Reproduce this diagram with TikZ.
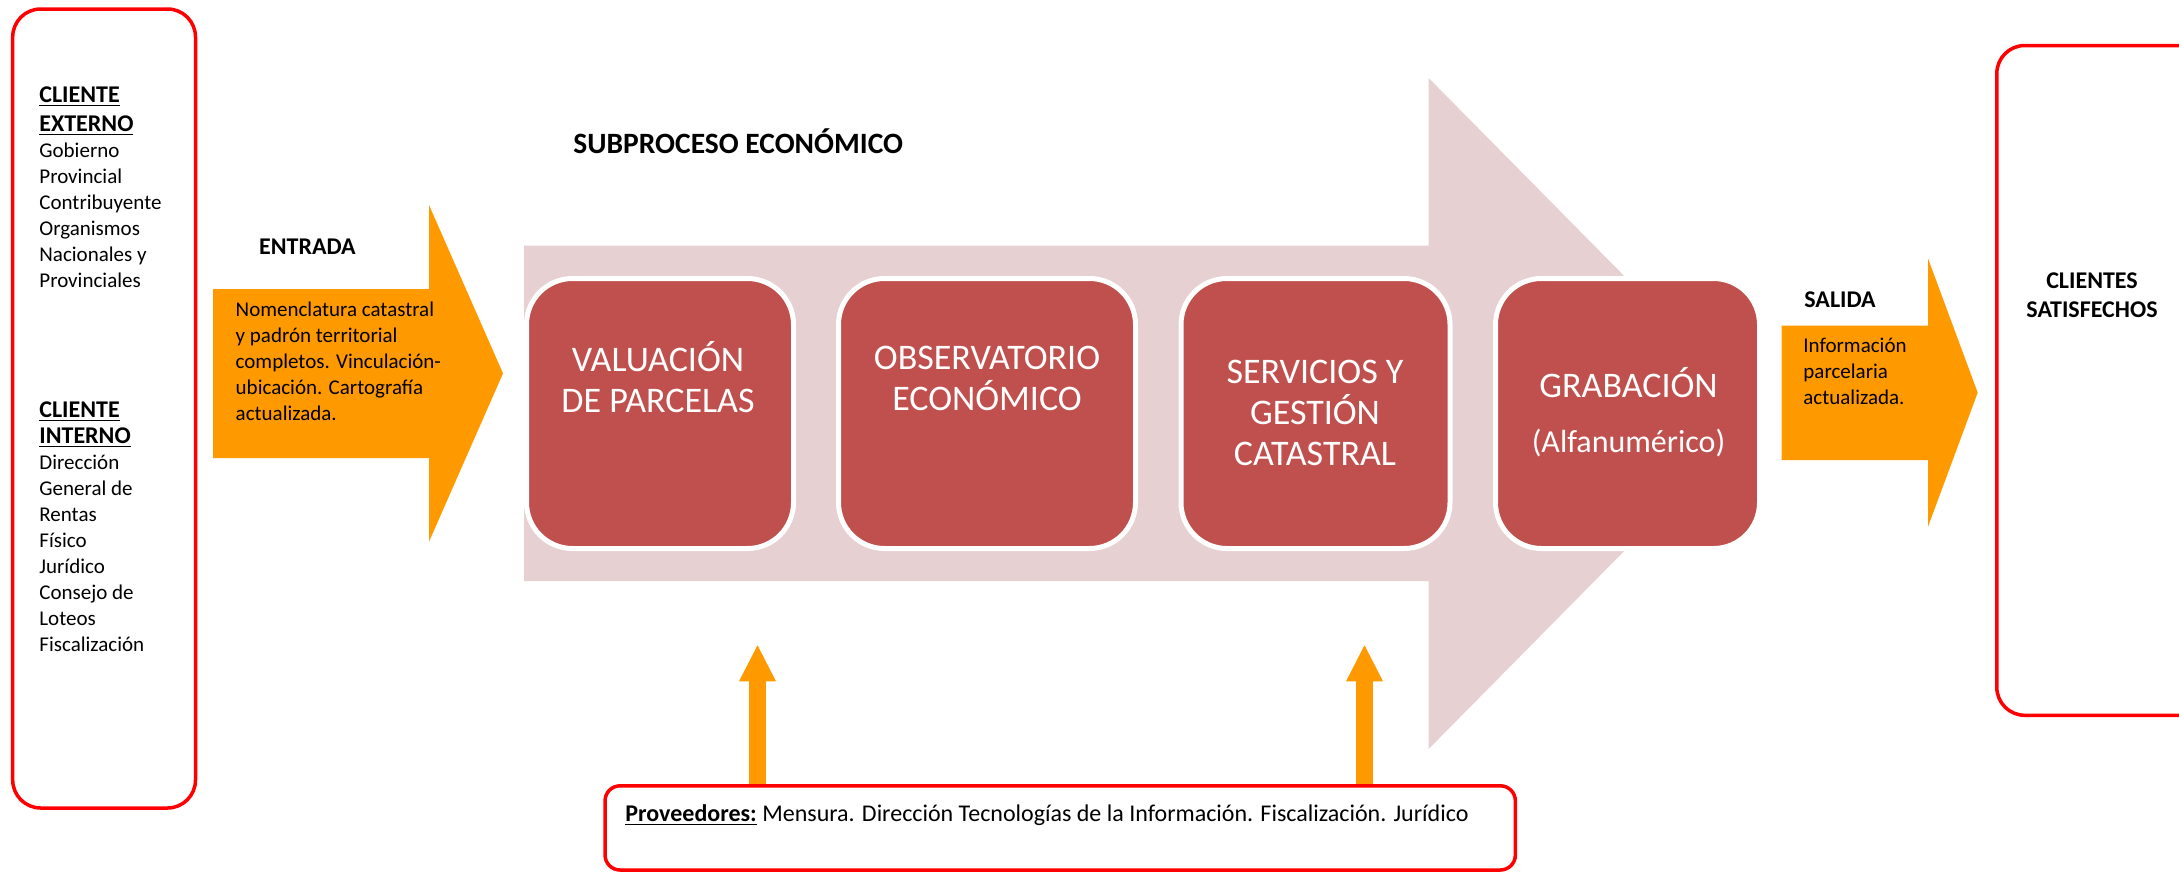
\documentclass[tikz,border=0pt]{standalone}
\usepackage{fontspec}
\setmainfont{Carlito}
\usetikzlibrary{arrows.meta}
\definecolor{orng}{RGB}{255,153,0}
\definecolor{pinkbg}{RGB}{230,208,209}
\definecolor{boxred}{HTML}{C0504D}
\newcommand{\fl}{\rule{0pt}{1em}}
\begin{document}
\begin{tikzpicture}[x=0.5pt,y=-0.5pt,
  redbox/.style={draw=red, line width=1.75pt, rounded corners=14pt, inner sep=0},
  procbox/.style={draw=white, line width=2.5pt, fill=boxred, rounded corners=23pt, inner sep=0, minimum height=135pt},
  ptxt/.style={inner sep=0, text=white, font=\fontsize{18}{20.5}\selectfont, align=center, anchor=north},
  smalltxt/.style={font=\fontsize{10.5}{13}\selectfont, align=left, anchor=north west, inner sep=0},
  headtxt/.style={font=\fontsize{12}{14.5}\selectfont\bfseries, align=left, anchor=north west, inner sep=0},
  titletxt/.style={font=\fontsize{12}{14.5}\selectfont\bfseries, anchor=base west, inner sep=0},
  uparrow/.style={draw=orng, line width=8.85pt, -{Triangle[length=18.5pt, width=17pt]}},
]
\useasboundingbox (0,0) rectangle (2179,873);
\clip (0,0) rectangle (2179,873);

% big pink process arrow
\fill[pinkbg] (524,245.5) -- (1428.6,245.5) -- (1428.6,78) -- (1760,413.5)
  -- (1428.6,749) -- (1428.6,581) -- (524,581) -- cycle;

% entrada arrow
\fill[orng] (213,289) -- (429,289) -- (429,205) -- (503,373.4)
  -- (429,541.7) -- (429,458) -- (213,458) -- cycle;

% salida arrow
\fill[orng] (1781.5,325.6) -- (1928,325.6) -- (1928,258.5) -- (1977.7,392.6)
  -- (1928,526.7) -- (1928,460) -- (1781.5,460) -- cycle;

% client boxes
\node[redbox, minimum width=91.4pt, minimum height=399.5pt] (clients) at (104.1,408.5) {};
\node[redbox, minimum width=131.6pt, minimum height=334.9pt] (satisf) at (2128.4,380.4) {};
\node[redbox, rounded corners=7.5pt, minimum width=455.15pt, minimum height=42.1pt] (prov) at (1060.2,827.9) {};

% process boxes
\node[procbox, minimum width=133.5pt] (b1) at (660,413.5) {};
\node[procbox, minimum width=148.5pt] (b2) at (987,413.5) {};
\node[procbox, minimum width=134.5pt] (b3) at (1315.5,413.5) {};
\node[procbox, minimum width=132pt] (b4) at (1627.5,413.5) {};

\node[ptxt] (t1) at (658,335.4) {\fl VALUACIÓN\\DE PARCELAS};
\node[ptxt] (t2) at (987,332.6) {\fl OBSERVATORIO\\ECONÓMICO};
\node[ptxt] (t3) at (1315,347) {\fl SERVICIOS Y\\GESTIÓN\\CATASTRAL};
\node[inner sep=0, text=white, font=\fontsize{18}{20.5}\selectfont, anchor=base] (t4) at (1628.5,397.5) {GRABACIÓN};
\node[inner sep=0, text=white, font=\fontsize{16}{19}\selectfont, anchor=base] (t4b) at (1628.5,452) {(Alfanumérico)};

% titles
\node[inner sep=0, anchor=base west, font=\fontsize{14.75}{16}\selectfont\bfseries] (sub) at (573,153.3) {SUBPROCESO ECONÓMICO};
\node[titletxt] (entrada) at (258.7,254.3) {ENTRADA};
\node[titletxt] (salida) at (1804,307) {SALIDA};
\node[headtxt, align=center, anchor=north] (satt) at (2092,264) {\fl CLIENTES\\SATISFECHOS};

% left texts
\node[headtxt] (exth) at (39,77.7) {\fl\underline{CLIENTE}\\\underline{EXTERNO}};
\node[smalltxt] (extb) at (39,136) {\fl Gobierno\\Provincial\\Contribuyente\\Organismos\\Nacionales y\\Provinciales};
\node[headtxt, font=\fontsize{12}{12.7}\selectfont\bfseries] (inth) at (39,393.3) {\fl\underline{CLIENTE}\\\underline{INTERNO}};
\node[smalltxt] (intb) at (39,448.3) {\fl Dirección\\General de\\Rentas\\Físico\\Jurídico\\Consejo de\\Loteos\\Fiscalización};

% entrada / salida texts
\node[smalltxt] (etxt) at (235.3,295) {\fl Nomenclatura catastral\\y padrón territorial\\completos. Vinculación-\\ubicación. Cartografía\\actualizada.};
\node[smalltxt] (stxt) at (1803,331) {\fl Información\\parcelaria\\actualizada.};

% proveedores
\node[inner sep=0, anchor=base west, font=\fontsize{12}{13}\selectfont] (provt) at (625,821.7)
  {\underline{\textbf{Proveedores:}} Mensura. Dirección Tecnologías de la Información. Fiscalización. Jurídico};

\coordinate (u1) at (757.5,644.3);
\coordinate (u2) at (1364.5,644.3);
\draw[uparrow] (prov.north -| u1) -- (u1);
\draw[uparrow] (prov.north -| u2) -- (u2);
\end{tikzpicture}
\end{document}
